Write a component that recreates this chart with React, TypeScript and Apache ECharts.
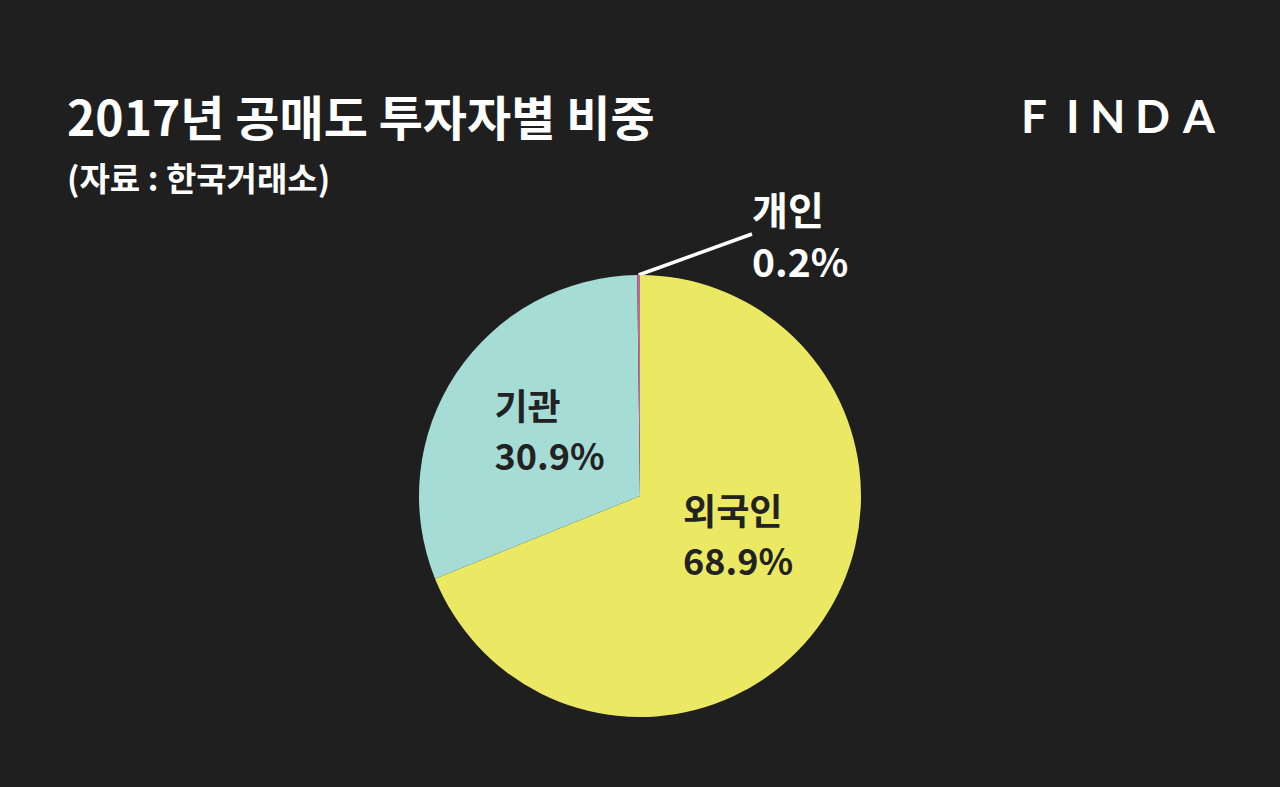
import React, { useEffect, useRef } from "react";
import * as echarts from "echarts";

const categories = ["외국인", "기관", "개인"];
const shares = [68.9, 30.9, 0.2];
const sliceColors = ["#ebe964", "#a5dcd6", "#c0669c"];
const titleText = "2017년 공매도 투자자별 비중";
const subtitleText = "(자료 : 한국거래소)";
const brandLetters = ["F", "I", "N", "D", "A"];

const FONT = "'Noto Sans CJK KR', 'Noto Sans', sans-serif";

export default function App() {
  const ref = useRef<HTMLDivElement>(null);
  useEffect(() => {
    document.body.style.margin = "0";
    document.body.style.background = "#1f1f1f";
    const chart = echarts.init(ref.current!, null, { renderer: "svg" });
    const data = categories.map((name, i) => {
      const item: any = {
        name,
        value: shares[i],
        itemStyle: { color: sliceColors[i] },
      };
      if (i === 0) {
        item.label = { offset: [4, -26] };
      }
      if (i === 1) {
        item.label = { offset: [4, -4] };
      }
      if (i === 2) {
        item.label = {
          position: "outside",
          color: "#ffffff",
          fontSize: 39,
          lineHeight: 52,
          rich: {
            a: { align: "left", color: "#ffffff", fontSize: 39, fontFamily: FONT, fontWeight: "bold", lineHeight: 52 },
          },
        };
        item.labelLine = {
          show: true,
          length: 10,
          length2: 0,
          lineStyle: { color: "#ffffff", width: 3.5 },
        };
      }
      return item;
    });
    const brandX = [1021, 1066, 1090, 1135, 1183];
    const brandGraphics = brandLetters.map((ch, i) => ({
      type: "text",
      left: brandX[i],
      top: 92,
      style: {
        text: ch,
        fill: "#ffffff",
        font: `bold 46px Lato, 'Noto Sans', sans-serif`,
      },
    }));
    chart.setOption({
      animation: false,
      backgroundColor: "#1f1f1f",
      graphic: [
        {
          type: "text",
          left: 67,
          top: 91,
          style: {
            text: titleText,
            fill: "#ffffff",
            font: `bold 48px ${FONT}`,
          },
        },
        {
          type: "text",
          left: 67,
          top: 160,
          style: {
            text: subtitleText,
            fill: "#ffffff",
            font: `bold 33px ${FONT}`,
          },
        },
        ...brandGraphics,
      ],
      series: [
        {
          type: "pie",
          center: [640, 496],
          radius: [0, 221],
          startAngle: 90,
          clockwise: true,
          avoidLabelOverlap: false,
          itemStyle: { borderWidth: 0 },
          emphasis: { disabled: true },
          label: {
            show: true,
            position: "inside",
            formatter: "{a|{b}}\n{a|{c}%}",
            color: "#222222",
            fontFamily: FONT,
            fontWeight: "bold",
            fontSize: 36,
            lineHeight: 50,
            rich: {
              a: { align: "left", color: "#222222", fontSize: 36, fontFamily: FONT, fontWeight: "bold", lineHeight: 50 },
            },
          },
          labelLine: { show: false },
          labelLayout: (params: any) => {
            if (params.dataIndex === 2) {
              return {
                x: 752,
                y: 234,
                align: "left",
                verticalAlign: "middle",
              };
            }
            return {};
          },
          data,
        },
      ],
    });
    return () => chart.dispose();
  }, []);
  return <div ref={ref} style={{ width: 1280, height: 787 }} />;
}
